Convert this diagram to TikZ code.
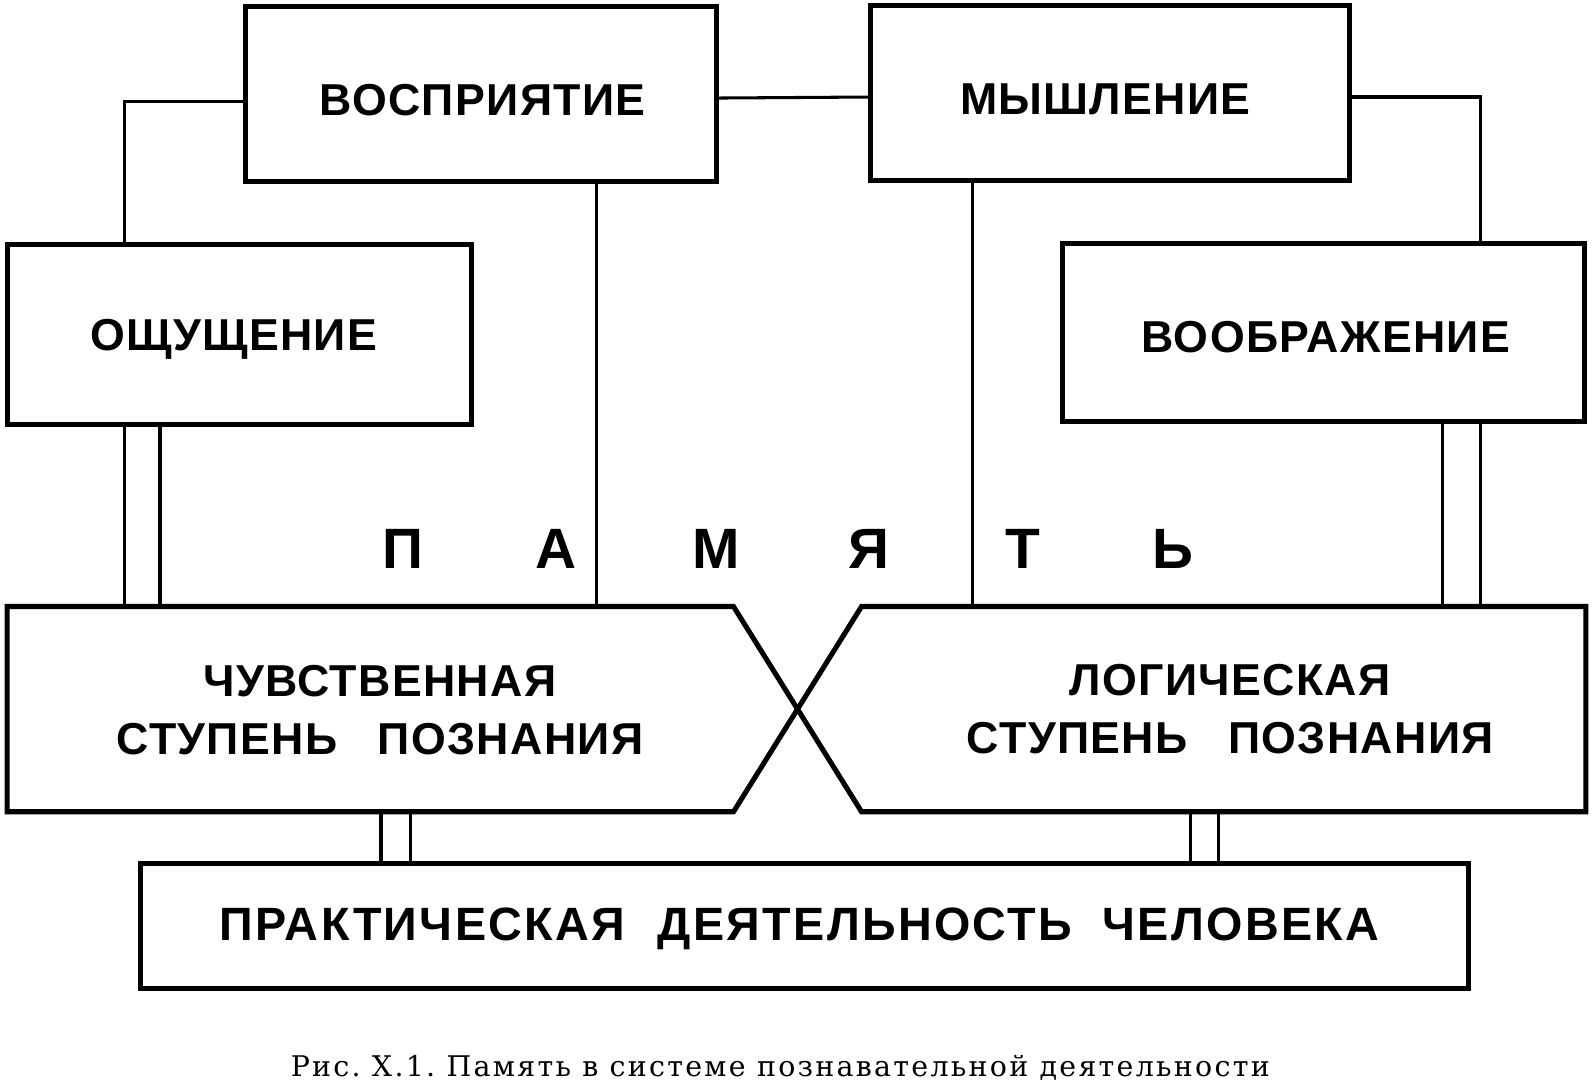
\documentclass[tikz,border=0pt]{standalone}
\usepackage{fontspec}
\setmainfont{Liberation Sans}
\newfontfamily\boxfont[LetterSpace=3]{Liberation Sans Bold}
\newfontfamily\boxfontw[LetterSpace=5]{Liberation Sans Bold}
\newfontfamily\capfont[LetterSpace=8]{DejaVu Serif}
\begin{document}
\begin{tikzpicture}[x=1pt,y=-1pt,
  box/.style={draw, line width=5pt, inner sep=0pt},
  lbl/.style={font=\boxfont\fontsize{44}{57}\selectfont, align=center, inner sep=0pt},
  lblw/.style={font=\boxfontw\fontsize{46}{57}\selectfont, inner sep=0pt},
  big/.style={font=\boxfont\fontsize{56}{60}\selectfont, inner sep=0pt},
  conn/.style={line width=3pt},
  outline/.style={line width=5pt, line join=miter}]
\useasboundingbox (0,0) rectangle (1568,1065);
\fill[white] (0,0) rectangle (1568,1065);

% boxes
\node[box, minimum width=463pt, minimum height=173pt] (vos) at (473.5,92.5) {};
\node[box, minimum width=471pt, minimum height=173pt] (mys) at (1092.5,91.5) {};
\node[box, minimum width=457pt, minimum height=177pt] (osh) at (235.5,329.5) {};
\node[box, minimum width=514pt, minimum height=175pt] (vob) at (1303,327.5) {};
\node[box, minimum width=1307pt, minimum height=123pt] (prak) at (792,911.5) {};

% box texts
\node[lbl] (vos-t) at (475,99) {ВОСПРИЯТИЕ};
\node[lbl] (mys-t) at (1088,98) {МЫШЛЕНИЕ};
\node[lbl] (osh-t) at (230,334) {ОЩУЩЕНИЕ};
\node[lbl] (vob-t) at (1305,332) {ВООБРАЖЕНИЕ};
\node[lblw] (prak-t) at (787,914) {ПРАКТИЧЕСКАЯ\hspace{32pt}ДЕЯТЕЛЬНОСТЬ\hspace{30pt}ЧЕЛОВЕКА};

% pentagons
\coordinate (L1) at (7,597);
\coordinate (L2) at (722,597);
\coordinate (X) at (785,698);
\coordinate (L3) at (722,799);
\coordinate (L4) at (7,799);
\coordinate (R1) at (848,597);
\coordinate (R2) at (1561,597);
\coordinate (R3) at (1561,799);
\coordinate (R4) at (848,799);
\draw[outline] (L1) -- (L2) -- (X) -- (L3) -- (L4) -- cycle;
\draw[outline] (R1) -- (R2) -- (R3) -- (R4) -- (X) -- cycle;
\node[lbl] (chuv-t) at (374,699) {ЧУВСТВЕННАЯ\\СТУПЕНЬ\hspace{40pt}ПОЗНАНИЯ};
\node[lbl] (log-t) at (1211,698) {ЛОГИЧЕСКАЯ\\СТУПЕНЬ\hspace{40pt}ПОЗНАНИЯ};

% memory letters
\node[big] (p1) at (397,540) {П};
\node[big] (p2) at (547,540) {А};
\node[big] (p3) at (705,540) {М};
\node[big] (p4) at (855,540) {Я};
\node[big] (p5) at (1007,540) {Т};
\node[big] (p6) at (1155,540) {Ь};

% connectors
\draw[conn] ([yshift=-7pt]vos.west) -| ([xshift=118pt]osh.north west);
\draw[conn] ([yshift=-4pt]vos.east) -- ([yshift=-4pt]mys.west);
\draw[conn] ([yshift=-4pt]mys.east) -| ([xshift=-105pt]vob.north east);

\coordinate (va) at ([xshift=-120pt]vos.south east);
\draw[conn] (va) -- (va |- L1);
\coordinate (ma) at ([xshift=103pt]mys.south west);
\draw[conn] (ma) -- (ma |- R1);

\coordinate (oa) at ([xshift=118pt]osh.south west);
\coordinate (ob) at ([xshift=153pt]osh.south west);
\draw[conn] (oa) -- (oa |- L1);
\draw[conn] (ob) -- (ob |- L1);

\coordinate (wa) at ([xshift=-143pt]vob.south east);
\coordinate (wb) at ([xshift=-105pt]vob.south east);
\draw[conn] (wa) -- (wa |- R1);
\draw[conn] (wb) -- (wb |- R1);

\coordinate (pa) at ([xshift=239pt]prak.north west);
\coordinate (pb) at ([xshift=268pt]prak.north west);
\coordinate (pc) at ([xshift=1036pt]prak.north west);
\coordinate (pd) at ([xshift=1063pt]prak.north west);
\draw[conn] (pa |- L4) -- (pa);
\draw[conn] (pb |- L4) -- (pb);
\draw[conn] (pc |- R4) -- (pc);
\draw[conn] (pd |- R4) -- (pd);

% caption
\node[font=\capfont\fontsize{28}{30}\selectfont, inner sep=0pt] (cap) at (768,1051)
  {Рис.\ X.1.\ Память\ в\ системе\ познавательной\ деятельности};
\end{tikzpicture}
\end{document}
